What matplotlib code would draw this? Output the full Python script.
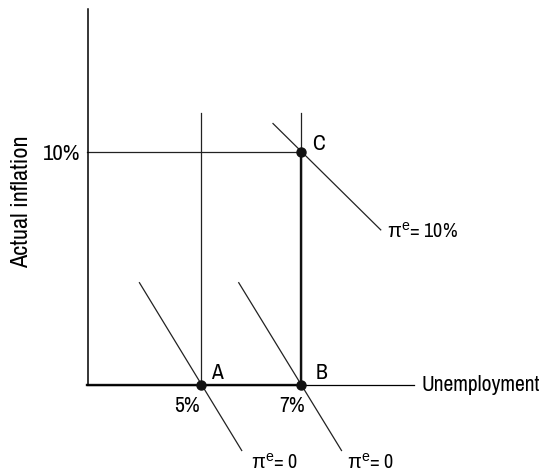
import matplotlib
matplotlib.use("Agg")
import matplotlib.pyplot as plt

plt.rcParams['font.family'] = ['Archivo Narrow', 'Liberation Sans', 'DejaVu Sans']
plt.rcParams['mathtext.fontset'] = 'custom'
plt.rcParams['mathtext.rm'] = 'Liberation Sans'
plt.rcParams['mathtext.it'] = 'Liberation Sans'

# unemployment (%) and actual inflation (%) of the three equilibria
point_names = ['A', 'B', 'C']
point_u = [5, 7, 7]
point_pi = [0, 0, 10]

# short-run Phillips curves, (u, pi) at both ends
spc_names = [r'$\mathrm{\pi}^{\mathrm{e}}$= 0', r'$\mathrm{\pi}^{\mathrm{e}}$= 0',
             r'$\mathrm{\pi}^{\mathrm{e}}$= 10%']
spc_u = [[3.75, 5.81], [5.75, 7.82], [6.44, 8.61]]
spc_pi = [[4.39, -2.79], [4.39, -2.79], [11.2, 6.65]]

# long-run verticals at 5% and 7%
lr_u = [5, 7]
lr_top = 11.64

x_min, x_max = 2.704, 9.27
y_max = 16.1
FS = 15.5

W, H = 543, 475
fig = plt.figure(figsize=(W / 100, H / 100), dpi=100)
ax = fig.add_axes([87.5 / W, (H - 385.3) / H, (413.5 - 87.5) / W, (385.3 - 9) / H])
ax.set_xlim(x_min, x_max)
ax.set_ylim(0, y_max)
for s in ['top', 'right']:
    ax.spines[s].set_visible(False)
ax.spines['left'].set_linewidth(1.1)
ax.spines['bottom'].set_linewidth(0.9)
ax.set_xticks([])
ax.set_yticks([10])
ax.set_yticklabels(['10%'], fontsize=16.5)
ax.tick_params(axis='y', length=0, pad=5)

fig.text(21.7 / W, 1 - 201.7 / H, 'Actual inflation', rotation=90,
         ha='center', va='center', fontsize=17.5)

ax.annotate('Unemployment', xy=(1, 0), xycoords='axes fraction',
            xytext=(6, 0), textcoords='offset points',
            ha='left', va='center', fontsize=FS, annotation_clip=False)

thin = dict(color='#222222', lw=0.9, clip_on=False)

# long-run lines and 10% guide
for u in lr_u:
    ax.plot([u, u], [0, lr_top], **thin)
ax.plot([x_min, point_u[2]], [point_pi[2], point_pi[2]], **thin)

# path A -> B -> C drawn heavier
ax.plot([x_min, point_u[1], point_u[2]], [0, point_pi[1], point_pi[2]],
        color='#111111', lw=1.7, clip_on=False, solid_joinstyle='miter')

# short-run curves with their labels
label_off = [(7, -8.5), (4, -8.5), (4.5, -1.5)]
for name, us, ps, off in zip(spc_names, spc_u, spc_pi, label_off):
    ax.plot(us, ps, **thin)
    ax.annotate(name, xy=(us[1], ps[1]), xytext=off, textcoords='offset points',
                ha='left', va='center', fontsize=14.5, annotation_clip=False)

ax.plot(point_u, point_pi, 'o', color='#111111', ms=6.5, clip_on=False, zorder=5)

name_off = [(6.5, 9), (10.5, 9), (8, 5.5)]
for name, u, p, off in zip(point_names, point_u, point_pi, name_off):
    ax.annotate(name, xy=(u, p), xytext=off, textcoords='offset points',
                ha='left', va='center', fontsize=FS)

# unemployment rate labels under A and B
for u, dx in zip(point_u[:2], [-1, 3]):
    ax.annotate(f'{u}%', xy=(u, 0), xytext=(dx, -15), textcoords='offset points',
                ha='right', va='center', fontsize=FS, annotation_clip=False)

fig.savefig('out.png', dpi=100, facecolor='white')
